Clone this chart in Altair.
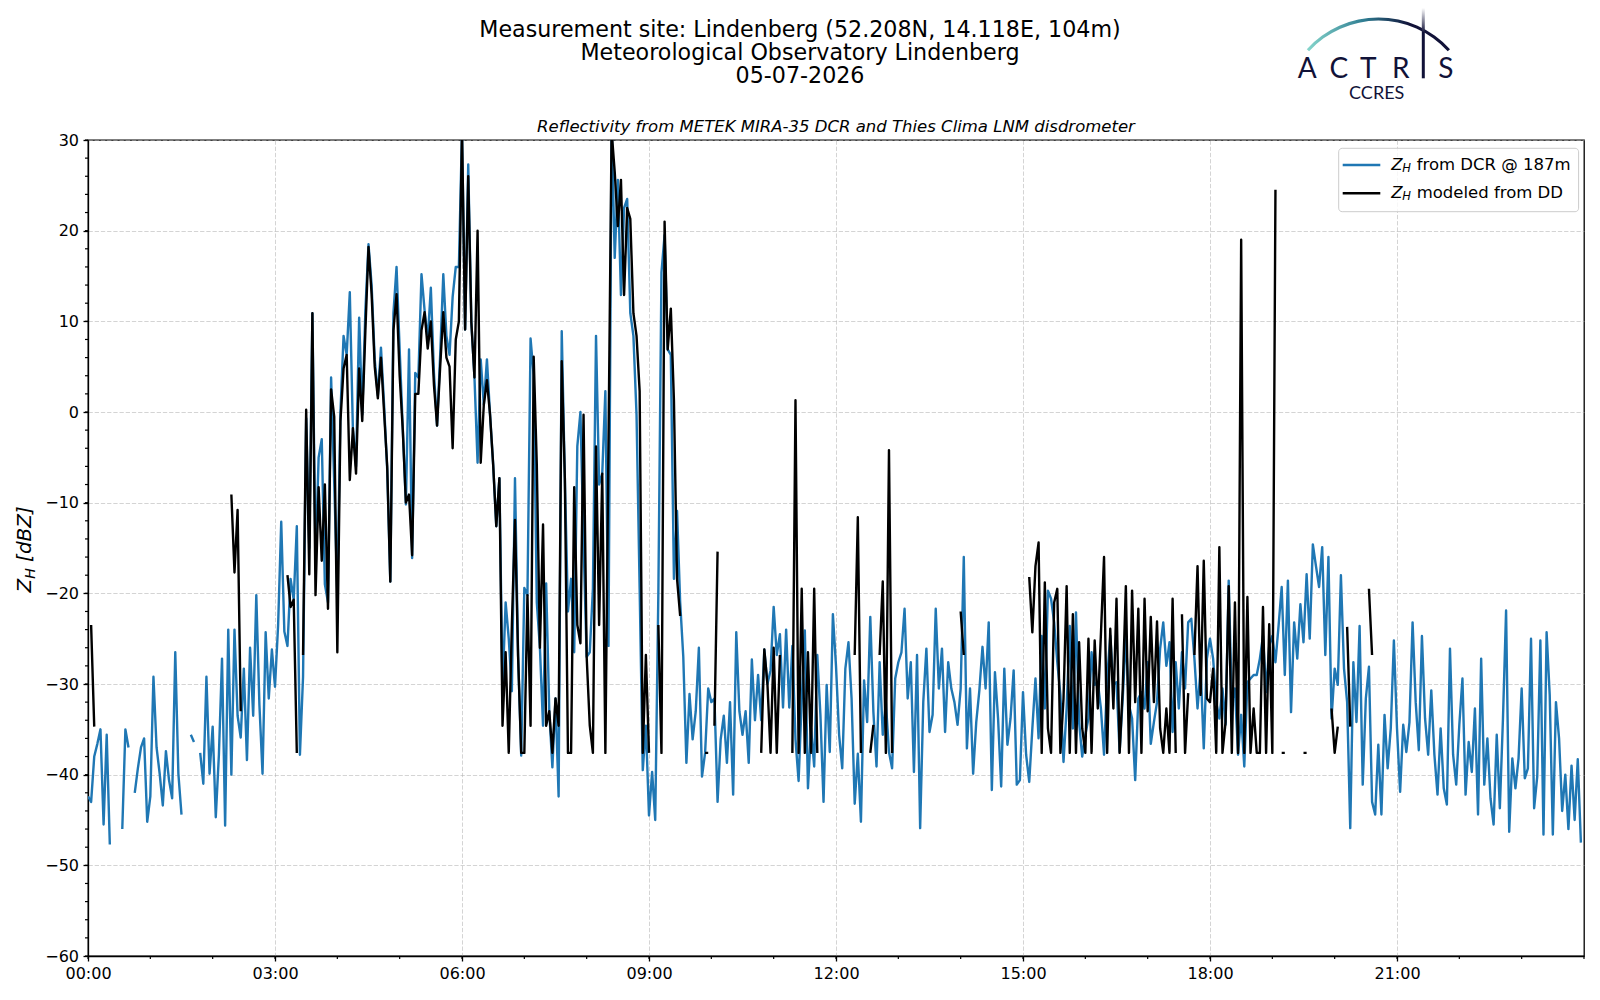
import altair as alt
import pandas as pd

N = None
FONT = "DejaVu Sans"
NAVY = "#111238"
BLUE = "#1f77b4"
W, H = 1496, 816
LW = 2.4
STEP_MIN = 3  # one sample every 3 minutes, 20 per hour

# ---- Z_H from DCR @ 187 m [dBZ], 3-min samples ----
dcr_00_06 = [
    -42.4, -43, -38, -36.6, -35, -45.5, -35.6, -47.7, N, N, N, -46, -35, -37, N, -42, -39.3, -37, -36, -45.2,
    -42.4, -29.2, -37, -39.9, -43.4, -37.4, -40.6, -42.6, -26.5, -39.9, -44.4, N, N, -35.6, -36.4, N, -37.6, -41, -29.2, -39.9,
    -34.7, -44.7, -37.8, -27.2, -45.6, -24, -40, -24, -33.5, -35.9, -28.3, -38.4, -26, -33.5, -20.2, -32.3, -39.9, -24.3, -31.6, -26.2,
    -30.3, -23.5, -12.1, -24.2, -25.8, -18.4, -20.7, -12.6, -37.8, -29.2, -0.7, -15, 10.9, -16.4, -5, -3, -19, -21, 3.8, -7.8,
    -20, 0, 8.4, 6.3, 13.2, -2, -6, 10.4, -0.3, 11.2, 18.5, 14, 5.8, 1.8, 7.1, 0.8, -6.3, -18.7, 10.9, 16,
    6.9, -1.8, -10.2, 6.9, -16.1, 4.3, 3.8, 15.2, 11.2, 7.9, 13.7, 4.3, -1.5, 6.3, 15.2, 8.4, 6.3, 12.7, 16, 16,
]
dcr_06_12 = [
    31, 9.1, 27.3, 9.9, 3.8, -5.6, 5.8, 0.8, 5.8, -0.3, -5.8, -12.6, -7.3, -30.5, -21, -25, -30.8, -7.3, -26.8, -37.9,
    -19.4, -20.2, 8.1, 4, -21, -26, -34.6, -18.9, -33, -39.2, -31.6, -42.4, 8.9, -7.3, -22, -18.4, -26.5, -3.8, 0, -14.4,
    -27, -26.5, -19.5, 8.4, -8, -6.8, 2.3, -25.8, 32, 17, 25.6, 12.9, 22.5, 23.5, 10.9, 8.4, -0.3, -19.5, -39.5, -34.6,
    -44.5, -39.7, -45, -20, 15.4, 19.5, 6.9, 6.3, -18.4, -10.9, -21, -27, -38.7, -31.1, -36.1, -33, -26, -40.2, -37.6, -30.5,
    -32, -31.6, -43, -36.1, -33.5, -38.7, -32, -42.2, -24.3, -33, -35.6, -33, -38.7, -27.3, -34, -29, -34, -26.2, -30, -28.5,
    -21.5, -26.8, -24.5, -32.6, -24, -32.6, -25.8, -36.1, -40.7, -31.8, -24.1, -41.5, -34.9, -39.1, -26.8, -33.4, -43, -30.1, -37.5, -22.3,
]
dcr_12_18 = [
    -28, -35.6, -39.3, -28.3, -25.4, -31.6, -43.2, -37.7, -45.2, -29.6, -34.2, -22.6, -33.1, -39.1, -27.6, -35.6, -32, -37.5, -39.3, -29.4,
    -27.6, -26.5, -21.7, -31.6, -27.6, -39.7, -26.8, -45.9, -32, -26.1, -35.3, -33.4, -21.7, -30.5, -26.1, -35.3, -27.6, -30.5, -32, -34.5,
    -30.5, -16, -37.1, -30.5, -39.9, -34.2, -30.7, -25.9, -30.5, -23.2, -41.7, -28.7, -33.8, -41.3, -28.3, -36.7, -33.8, -28.5, -41.1, -40.6,
    -30.9, -37.8, -40.8, -34.9, -29.4, -36, -24.7, -32.7, -19.7, -20.6, -23.2, -27.6, -31.2, -38.6, -32.7, -23.6, -34.9, -22.1, -34.2, -38,
    -35.6, -33.8, -26.5, -30.1, -29.8, -32.7, -37.8, -29.4, -24.7, -30.1, -29.8, -37.5, -31.6, -24.7, -32.3, -33.8, -40.6, -31.6, -30.9, -32.7,
    -27.6, -36.6, -34.2, -32, -26.1, -23.2, -28, -25.4, -35.3, -27.6, -32.7, -26.5, -30.5, -23.2, -22.8, -27.2, -32.7, -28.3, -37.1, -27.2,
]
dcr_18_24 = [
    -25, -27.2, -32, -33.8, -30.5, -34.5, -18.6, -32, -30.5, -37.8, -33.4, -39.1, -29.8, -29.4, -29, -29, -27.2, -24.7, -30.9, -25.8,
    -24.7, -27.6, -23.6, -19.3, -29, -18.6, -33.1, -23.2, -27.2, -21.2, -25.4, -17.9, -25, -14.6, -17, -19.3, -14.9, -26.8, -16, -33.8,
    -28.3, -30.1, -18, -28.3, -32, -45.9, -27.6, -34.2, -23.6, -41.1, -31.6, -28.1, -43, -44.4, -36.7, -44.4, -33.4, -39.3, -34.9, -25.2,
    -34.9, -41.9, -34.5, -37.5, -34.2, -23.2, -32, -37.3, -24.7, -33.8, -37.8, -30.7, -37.8, -42.2, -34.9, -41.5, -43.3, -26.1, -37.8, -41.1,
    -34.5, -29.4, -42.2, -36.4, -39.7, -32.7, -44.4, -27.2, -41.1, -36, -42.6, -45.5, -35.6, -43.7, -33.8, -21.9, -46.3, -38.2, -41.5, -38.2,
    -30.5, -40.4, -39.3, -25, -43.7, -40.2, -25.2, -46.6, -24.3, -31.2, -46.6, -32, -36, -44, -40, -46, -39, -45, -38.3, -47.5,
]

# ---- Z_H modeled from disdrometer DSD [dBZ], 3-min samples (None = no rain) ----
dd_00_06 = [
    N, -23.5, -34.7, N, N, N, N, N, N, N, N, N, N, N, N, N, N, N, N, N,
    N, N, N, N, N, N, N, N, N, N, N, N, N, N, N, N, N, N, N, N,
    N, N, N, N, N, N, -9.1, -17.7, -10.8, -33, N, N, N, N, N, N, N, N, N, N,
    N, N, N, N, -18, -21.5, -20.7, -37.6, N, -26.8, 0.25, -17.9, 10.9, -20.2, -8.3, -16.4, -8, -21.7, 2.5, -0.5,
    -26.5, -1, 4.8, 6.3, -7.5, -1.8, -6.8, 4.8, -1, 9, 18.2, 13, 5, 1.5, 6, 0, -6, -18.7, 9, 13,
    4, -2, -10, -9.1, -15.8, 2, 2, 9, 11, 7, 10, 3, -1.5, 5, 11, 6, 5, -4, 8, 10,
]
dd_06_12 = [
    31, 9.1, 26, 9.9, 3.8, 20, -5.6, 0.8, 3.5, -0.3, -5.8, -12.6, -7.3, -34.6, -26.5, -37.6, -23.5, -11.9, -27, -37.6,
    -37.6, -20.2, -34.6, 6.1, -5.8, -26, -12.4, -34.6, -33, -37.6, -31.6, -34.6, 5.6, -7.3, -37.6, -37.6, -8.3, -23.5, -25.5, -0.3,
    -27, -34.6, -37.6, -3.8, -23.5, -6.8, -37.6, -3.5, 31, 26.5, 20.5, 25.6, 12.9, 22.5, 21.3, 10.9, 8.4, 2.3, -37.6, -26.8,
    -37.6, N, N, -23.5, -37.6, 21, 6.9, 11.4, 1.3, -18.4, -22.5, N, N, N, N, N, N, N, -37.6, -37.6,
    N, -34.6, -15.4, N, N, N, N, N, N, N, N, N, N, N, N, N, -37.6, -26.2, -30, -37.6,
    -26, -37.6, -26.8, N, N, N, -37.6, 1.3, -37.6, -19.5, -37.6, -26.5, -37.6, -19.5, -37.6, N, N, N, N, N,
]
dd_12_18 = [
    N, N, N, N, N, N, -26.8, -11.6, -37.6, N, N, -37.6, -34.5, N, -26.8, -18.7, -37.6, -4.2, -37.6, N,
    N, N, N, N, N, N, N, N, N, N, N, N, N, N, N, N, N, N, N, N,
    -22, -26.8, N, N, N, N, N, N, N, N, N, N, N, N, N, N, N, N, N, N,
    N, N, -18.2, -24.3, -17, -14.4, -37.6, -18.8, -34.9, -37.6, -21, -19.5, -37.6, -31.6, -19.2, -37.6, -22.3, -37.6, -25.4, -34.9,
    -37.6, -25, -37.6, -25.2, -32.7, -24.5, -16, -37.6, -23.9, -32.7, -20.6, -37.6, -30.5, -19.2, -37.6, -19.7, -32, -21.7, -37.6, -20.6,
    -33, -22.6, -32, -23.1, -34.9, -37.6, -32.7, -37.6, -20.6, -37.6, N, -22.3, -37.6, -31, N, -26.8, -17, -31.2, -16.4, -31.6,
]
dd_18_24 = [
    -32, -28.3, -37.6, -14.9, -37.6, -34.2, -19.2, -37.6, -21, -37.6, 19, -37.6, -20.4, -37.6, -32.7, -37.6, -37.6, -21.5, -37.6, -23.4,
    -37.6, 24.5, N, -37.6, -37.6, N, N, N, N, N, -37.6, -37.6, N, N, N, N, N, N, N, -32.7,
    -37.6, -34.7, N, N, -23.7, -34.7, N, N, N, N, N, -19.5, -26.8, N, N, N, N, N, N, N,
    N, N, N, N, N, N, N, N, N, N, N, N, N, N, N, N, N, N, N, N,
    N, N, N, N, N, N, N, N, N, N, N, N, N, N, N, N, N, N, N, N,
    N, N, N, N, N, N, N, N, N, N, N, N, N, N, N, N, N, N, N, N,
]

HOUR_TICKS = [0, 3, 6, 9, 12, 15, 18, 21]
HOUR_MINOR = list(range(0, 25))
ZH_TICKS = [-60, -50, -40, -30, -20, -10, 0, 10, 20, 30]
ZH_MINOR = list(range(-60, 31, 2))
SERIES = ["DCR", "DD"]
LEGEND_TEXT = ["from DCR @ 187m", "modeled from DD"]
TITLE_LINES = [
    "Measurement site: Lindenberg (52.208N, 14.118E, 104m)",
    "Meteorological Observatory Lindenberg",
    "05-07-2026",
]
SUBTITLE = "Reflectivity from METEK MIRA-35 DCR and Thies Clima LNM disdrometer"
LOGO_LETTERS = ["A", "C", "T", "R", "S"]

dcr = dcr_00_06 + dcr_06_12 + dcr_12_18 + dcr_18_24
dd = dd_00_06 + dd_06_12 + dd_12_18 + dd_18_24
assert len(dcr) == 480, len(dcr)
assert len(dd) == 480, len(dd)
hours = [i * STEP_MIN / 60.0 for i in range(len(dcr))]

df_dcr = pd.DataFrame({"hour": hours, "zh": dcr, "series": SERIES[0]})
df_dd = pd.DataFrame({"hour": hours, "zh": dd, "series": SERIES[1]})
ONE = pd.DataFrame({"k": [0]})

x_scale = alt.Scale(domain=[0, 24], nice=False, zero=False)
y_scale = alt.Scale(domain=[-60, 30], nice=False, zero=False)
x_axis = alt.Axis(values=HOUR_TICKS, title=None, grid=True, tickSize=5, labelPadding=4,
                  labelFlush=False, labelOverlap=False,
                  labelExpr="(datum.value < 10 ? '0' : '') + datum.value + ':00'")
y_axis = alt.Axis(values=ZH_TICKS, title=None, tickSize=5, labelPadding=4.5, grid=True, labelOverlap=False)
color = alt.Color("series:N", scale=alt.Scale(domain=SERIES, range=[BLUE, "#000000"]), legend=None)

X_ENC = alt.X("hour:Q", scale=x_scale, axis=x_axis)
Y_ENC = alt.Y("zh:Q", scale=y_scale, axis=y_axis)

line_dcr = alt.Chart(df_dcr).mark_line(strokeWidth=LW, clip=True, strokeJoin="round").encode(
    x=X_ENC, y=Y_ENC, color=color)
line_dd = alt.Chart(df_dd).mark_line(strokeWidth=LW, clip=True, strokeJoin="round").encode(
    x=X_ENC, y=Y_ENC, color=color)

# minor ticks (1 h on x, 2 dBZ on y), drawn just outside the frame
x_minor = alt.Chart(pd.DataFrame({"hour": HOUR_MINOR})).mark_rule(color="black", strokeWidth=1.2).encode(
    x=X_ENC, y=alt.value(H), y2=alt.value(H + 3))
y_minor = alt.Chart(pd.DataFrame({"zh": ZH_MINOR})).mark_rule(color="black", strokeWidth=1.2).encode(
    y=Y_ENC, x=alt.value(0), x2=alt.value(-3))


def txt(s, x, y, size, font=FONT, style="normal", col="black", align="center", baseline="middle", **kw):
    return alt.Chart(ONE).mark_text(text=s, font=font, fontSize=size, fontStyle=style, color=col,
                                    align=align, baseline=baseline, **kw).encode(
        x=alt.value(x), y=alt.value(y))


title_block = txt(TITLE_LINES, 712, -110, 22.2, lineHeight=23)
subtitle = txt(SUBTITLE, W / 2, -13.3, 16.5, style="italic")

# y-axis title  Z_H [dBZ]  (rotated, reading upwards)
YT_X = -57.3
ytitle = [
    txt("Z", YT_X, 452.5, 20, style="italic", align="left", baseline="alphabetic", angle=270),
    txt("H", YT_X + 4, 438.8, 14, style="italic", align="left", baseline="alphabetic", angle=270),
    txt("[dBZ]", YT_X, 421.9, 20, style="italic", align="left", baseline="alphabetic", angle=270),
]

# legend box (matplotlib style) in the upper-right corner of the axes
LEG_X0, LEG_X1, LEG_Y0, LEG_Y1 = W - 245.3, W - 5.4, 8.3, 71.7
ROW_Y = [25, 53.3]
legend_box = alt.Chart(ONE).mark_rect(fill="white", fillOpacity=0.8, stroke="#cccccc", strokeWidth=1,
                                      cornerRadius=3.5).encode(
    x=alt.value(LEG_X0), x2=alt.value(LEG_X1), y=alt.value(LEG_Y0), y2=alt.value(LEG_Y1))
legend_items = []
for i, (col, lab) in enumerate(zip([BLUE, "#000000"], LEGEND_TEXT)):
    ry = ROW_Y[i]
    legend_items.append(alt.Chart(ONE).mark_rule(color=col, strokeWidth=LW).encode(
        x=alt.value(LEG_X0 + 4), x2=alt.value(LEG_X0 + 41.6), y=alt.value(ry)))
    legend_items.append(txt("Z", LEG_X0 + 52.6, ry, 16.5, style="italic", align="left"))
    legend_items.append(txt("H", LEG_X0 + 63.6, ry + 4, 11.5, style="italic", align="left"))
    legend_items.append(txt(lab, LEG_X0 + 78, ry, 16.5, align="left"))

arc_fill = {"gradient": "linear", "x1": 0, "x2": 1, "y1": 0, "y2": 0,
            "stops": [{"offset": 0, "color": "#86d6cc"}, {"offset": 0.4, "color": "#2f7d92"},
                      {"offset": 0.72, "color": NAVY}, {"offset": 1, "color": NAVY}]}
stem_fill = {"gradient": "linear", "x1": 0, "x2": 0, "y1": 0, "y2": 1,
             "stops": [{"offset": 0, "color": "#ffffff"}, {"offset": 0.35, "color": NAVY},
                       {"offset": 1, "color": NAVY}]}
logo_arc = alt.Chart(ONE).mark_arc(radius=96.7, radius2=93.6, theta=5.449, theta2=7.117,
                                   fill=arc_fill).encode(x=alt.value(1290.4), y=alt.value(-25.8))
logo_stem = alt.Chart(ONE).mark_rect(fill=stem_fill).encode(
    x=alt.value(1333.8), x2=alt.value(1336.8), y=alt.value(-132), y2=alt.value(-61.7))
logo_letters = [txt(ch, cx, -61.7, 28, font="Lato", col=NAVY, baseline="alphabetic")
                for ch, cx in zip(LOGO_LETTERS, [1219.3, 1250.8, 1280.3, 1312.8, 1357.8])]
logo_sub = txt("CCRES", 1288.7, -40.7, 18, font="Lato", col=NAVY, baseline="alphabetic")

chart = alt.layer(
    line_dcr, line_dd, x_minor, y_minor, title_block, subtitle, *ytitle,
    legend_box, *legend_items, logo_arc, logo_stem, *logo_letters, logo_sub
).properties(
    width=W, height=H,
    autosize=alt.AutoSizeParams(type="none"),
    padding={"left": 80, "top": 132, "right": 8, "bottom": 36},
    background="white",
).configure_view(
    stroke="black", strokeWidth=1.3
).configure_axis(
    labelFont=FONT, labelFontSize=16, labelColor="black", tickColor="black", tickWidth=1.3,
    domainColor="black", domainWidth=1.3, gridColor="#b0b0b0", gridOpacity=0.55, gridWidth=1.0,
    gridDash=[4.3, 1.9]
)

chart.save("out.html", embed_options={"renderer": "svg", "actions": False})
